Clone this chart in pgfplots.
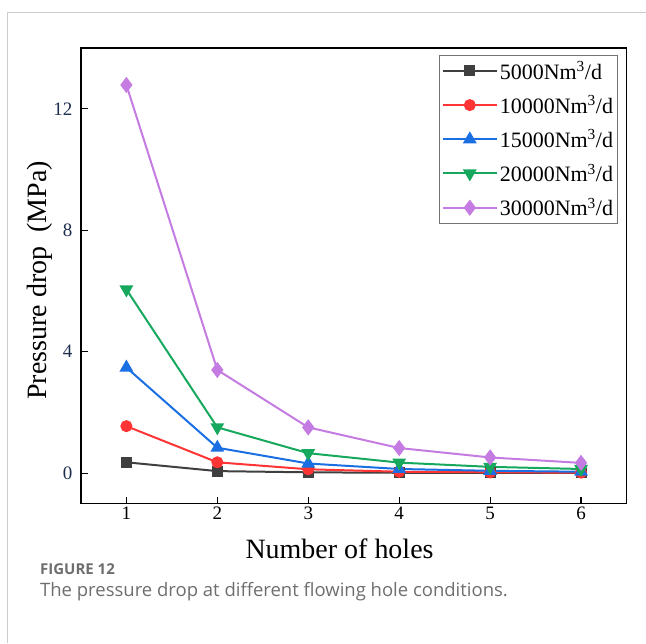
\documentclass[border=0pt]{standalone}
\usepackage{fontspec}
\setmainfont{Liberation Serif}
\newfontfamily\capfont{Open Sans}
\usepackage{pgfplots}
\pgfplotsset{compat=1.18}

\definecolor{cblack}{HTML}{3F3F3F}
\definecolor{cred}{HTML}{FF3434}
\definecolor{cblue}{HTML}{1A6FE3}
\definecolor{cgreen}{HTML}{16A85C}
\definecolor{cpurple}{HTML}{C47BE2}
\definecolor{ticktxt}{HTML}{1E2E4E}
\definecolor{captxt}{HTML}{6E6E6E}

\begin{document}
\begin{tikzpicture}
\path (0pt,0pt) rectangle (646pt,643pt);
\draw[color=black!20, line width=1pt] (8pt,0pt) -- (8pt,630pt) -- (646pt,630pt);

\begin{axis}[
  at={(81pt,139pt)}, anchor=south west,
  scale only axis, width=546pt, height=456pt,
  xmin=0.5, xmax=6.5, ymin=-1, ymax=14,
  xtick={1,2,3,4,5,6}, ytick={0,4,8,12},
  tick align=inside, xtick pos=bottom, ytick pos=left,
  major tick length=7pt,
  axis line style={line width=1.2pt},
  every tick/.style={line width=1.2pt, black},
  /pgf/number format/assume math mode=true,
  ticklabel style={font=\fontsize{19}{22}\selectfont},
  yticklabel style={text=ticktxt, xshift=-5pt},
  xlabel={Number of holes},
  ylabel={Pressure drop\ \ (MPa)},
  label style={font=\fontsize{28}{32}\selectfont},
  xlabel style={at={(axis description cs:0.474,-0.099)}, anchor=center},
  ylabel style={at={(axis description cs:-0.075,0.49)}, anchor=center},
  legend style={at={(0.9835,0.985)}, anchor=north east,
    draw=black!55, line width=1pt,
    font=\fontsize{22}{26}\selectfont, row sep=11pt,
    inner xsep=2pt, inner ysep=4pt},
  legend cell align=left,
  legend image code/.code={
    \draw[mark repeat=2, mark phase=2] plot coordinates {(0pt,0pt) (27pt,0pt) (54pt,0pt)};
  },
  every axis plot/.append style={line width=2pt},
]
\addplot[cblack, mark=square*, mark size=4.5pt] coordinates {
  (1,0.36)(2,0.07)(3,0.03)(4,0.015)(5,0.01)(6,0.008)};
\addlegendentry{5000Nm\textsuperscript{3}/d}
\addplot[cred, mark=*, mark size=5pt] coordinates {
  (1,1.55)(2,0.36)(3,0.13)(4,0.05)(5,0.03)(6,0.02)};
\addlegendentry{10000Nm\textsuperscript{3}/d}
\addplot[cblue, mark=triangle*, mark size=6pt] coordinates {
  (1,3.48)(2,0.84)(3,0.32)(4,0.14)(5,0.08)(6,0.05)};
\addlegendentry{15000Nm\textsuperscript{3}/d}
\addplot[cgreen, mark=triangle*, mark size=6pt, mark options={rotate=180}] coordinates {
  (1,6.05)(2,1.51)(3,0.66)(4,0.35)(5,0.21)(6,0.14)};
\addlegendentry{20000Nm\textsuperscript{3}/d}
\addplot[cpurple, mark=diamond*, mark size=6.5pt] coordinates {
  (1,12.78)(2,3.40)(3,1.51)(4,0.83)(5,0.52)(6,0.34)};
\addlegendentry{30000Nm\textsuperscript{3}/d}
\end{axis}

\node[anchor=base west, inner sep=0pt, text=captxt,
  font=\capfont\bfseries\fontsize{15}{18}\selectfont] at (40pt,68pt) {FIGURE 12};
\node[anchor=base west, inner sep=0pt, text=captxt,
  font=\capfont\fontsize{18.5}{22}\selectfont] at (40pt,46pt)
  {The pressure drop at different flowing hole conditions.};
\end{tikzpicture}
\end{document}
